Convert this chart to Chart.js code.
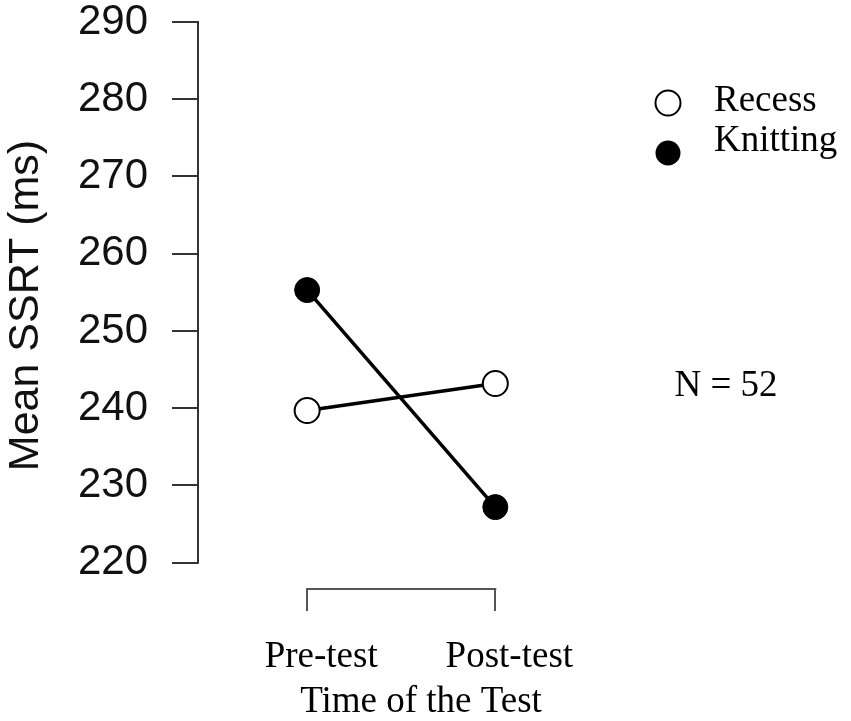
<!DOCTYPE html>
<html>
<head>
<meta charset="utf-8">
<script src="https://cdn.jsdelivr.net/npm/chart.js@4.4.1/dist/chart.umd.min.js"></script>
<style>
  html, body { margin: 0; padding: 0; background: #fff; }
  #wrap { width: 851px; height: 721px; }
</style>
</head>
<body>
<div id="wrap"><canvas id="chart" width="851" height="721"></canvas></div>
<script>
// values
const categories = ["Pre-test", "Post-test"];
const recess = [239.7, 243.2];
const knitting = [255.3, 227.2];
const yTicks = [220, 230, 240, 250, 260, 270, 280, 290];
const seriesNames = ["Recess", "Knitting"];
const sampleNote = "N = 52";
const yTitle = "Mean SSRT (ms)";
const xTitle = "Time of the Test";

const serif = "'Liberation Serif', 'Times New Roman', serif";
const sans = "'Liberation Sans', Arial, sans-serif";

function toPoints(values) {
    return values.map(function(v, i) { return {x: i, y: v}; });
}

// axis lines that only span the ticks, plus legend and note
var extras = {
    id: "extras",
    afterDraw: function(chart) {
        var ctx = chart.ctx;
        var area = chart.chartArea;
        var x = chart.scales.x;
        var y = chart.scales.y;
        ctx.save();
        ctx.lineWidth = 2;
        ctx.strokeStyle = "#333";
        ctx.beginPath();
        ctx.moveTo(area.left, y.getPixelForValue(yTicks[0]) + 1);
        ctx.lineTo(area.left, y.getPixelForValue(yTicks[yTicks.length - 1]) - 1);
        ctx.stroke();

        ctx.strokeStyle = "#555";
        ctx.beginPath();
        ctx.moveTo(x.getPixelForValue(0) - 1, area.bottom);
        ctx.lineTo(x.getPixelForValue(categories.length - 1) + 1, area.bottom);
        ctx.stroke();

        // legend
        ctx.font = "37px " + serif;
        ctx.textBaseline = "middle";
        ctx.fillStyle = "#000";
        var ly = [103, 153];
        var ty = [101, 141];
        for (var i = 0; i < seriesNames.length; i++) {
            ctx.beginPath();
            ctx.arc(668, ly[i], 12.5, 0, Math.PI * 2);
            if (i == 0) {
                ctx.fillStyle = "#fff";
                ctx.fill();
                ctx.lineWidth = 2;
                ctx.strokeStyle = "#000";
                ctx.stroke();
            } else {
                ctx.fillStyle = "#000";
                ctx.fill();
            }
            ctx.fillStyle = "#000";
            ctx.textAlign = "left";
            ctx.fillText(seriesNames[i], 714, ty[i]);
        }

        ctx.textAlign = "center";
        ctx.fillText(sampleNote, 726, 386);
        ctx.restore();
    }
};

var ctx = document.getElementById("chart").getContext("2d");
var myChart = new Chart(ctx, {
    type: "line",
    data: {
        datasets: [
            {
                label: seriesNames[1],
                data: toPoints(knitting),
                borderColor: "#000",
                borderWidth: 3.5,
                backgroundColor: "#000",
                pointBackgroundColor: "#000",
                pointBorderColor: "#000",
                pointBorderWidth: 1,
                pointRadius: 12.5,
            },
            {
                label: seriesNames[0],
                data: toPoints(recess),
                borderColor: "#000",
                borderWidth: 3.5,
                pointBackgroundColor: "#fff",
                pointBorderColor: "#000",
                pointBorderWidth: 2,
                pointRadius: 12.5,
            }
        ]
    },
    options: {
        responsive: false,
        animation: false,
        events: [],
        layout: { padding: { top: 22, right: 207, bottom: 0, left: 0 } },
        plugins: {
            legend: { display: false },
            tooltip: { enabled: false }
        },
        scales: {
            x: {
                type: "linear",
                min: -0.58,
                max: 1.79,
                afterBuildTicks: function(scale) {
                    scale.ticks = categories.map(function(c, i) { return {value: i}; });
                },
                afterFit: function(scale) {
                    scale.height = 132;
                    scale.paddingLeft = 0;
                    scale.paddingRight = 0;
                },
                border: { display: false },
                grid: {
                    drawOnChartArea: false,
                    tickLength: 22,
                    color: "#555",
                    lineWidth: 2
                },
                ticks: {
                    callback: function(value) { return categories[value]; },
                    font: { family: serif, size: 37 },
                    color: "#000",
                    padding: 24,
                    labelOffset: 14,
                    maxRotation: 0
                },
                title: {
                    display: true,
                    text: xTitle,
                    font: { family: serif, size: 37, lineHeight: 1 },
                    color: "#000",
                    padding: { top: 0, bottom: 0 }
                }
            },
            y: {
                min: 216.6,
                max: 290,
                afterBuildTicks: function(scale) {
                    scale.ticks = yTicks.map(function(v) { return {value: v}; });
                },
                afterFit: function(scale) {
                    scale.width = 198;
                    scale.paddingTop = 0;
                    scale.paddingBottom = 0;
                },
                border: { display: false },
                grid: {
                    drawOnChartArea: false,
                    tickLength: 26,
                    color: "#333",
                    lineWidth: 2
                },
                ticks: {
                    font: { family: sans, size: 42 },
                    color: "#111",
                    padding: 24
                },
                title: {
                    display: true,
                    text: yTitle,
                    font: { family: sans, size: 43, lineHeight: 1.2 },
                    color: "#111",
                    padding: { top: 0, bottom: 0 }
                }
            }
        }
    },
    plugins: [extras]
});
</script>
</body>
</html>
